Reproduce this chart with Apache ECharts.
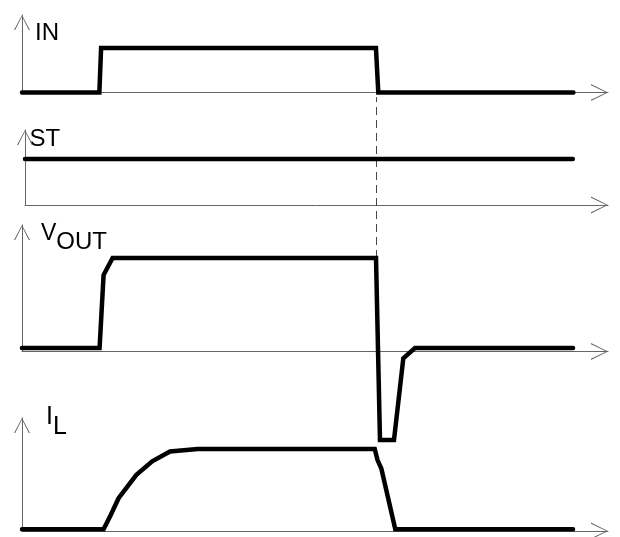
<!DOCTYPE html>
<html><head><meta charset="utf-8">
<script src="https://cdn.jsdelivr.net/npm/echarts@6/dist/echarts.min.js"></script>
<style>html,body{margin:0;padding:0;background:#fff}#c{width:620px;height:537px}</style>
</head><body><div id="c"></div>
<script>
// ---- data (time in arbitrary units 0..100, levels normalised: 1 = nominal high) ----
const inTime  = [0, 13.2, 13.5, 60.4, 60.8, 94.1];
const inLevel = [0, 0, 1, 1, 0, 0];
const stTime  = [0.5, 94.0];
const stLevel = [1, 1];
const voutTime  = [0, 13.24, 13.92, 15.46, 60.41, 61.09, 63.48, 65.07, 67.06, 94.03];
const voutLevel = [0.037, 0.037, 0.818, 1, 1, -0.947, -0.947, -0.073, 0.037, 0.037];
const ilTime  = [0, 13.92, 15.1, 16.48, 19.52, 22.22, 25.26, 29.97, 60.19, 60.67, 61.33, 63.7, 94.03];
const ilLevel = [0.02, 0.02, 0.19, 0.40, 0.685, 0.85, 0.97, 1, 1, 0.865, 0.76, 0.02, 0.02];
// dashed guide at IN falling edge (in VOUT units: from VOUT high up to IN baseline)
const guideTime  = [60.5, 60.5];
const guideLevel = [1, 2.72];
const signalNames = ['IN', 'ST', '{v|V}{s|OUT}', '{i|I}{l|L}'];

// ---- layout ----
const FONT = 'Liberation Sans, Arial, sans-serif';
const panels = [
  {left: 22, top: 15,  base: 92.5,  yMax: 1.742, xMin: 0,   gap: -6,  pad: 13},
  {left: 25, top: 130, base: 205,   yMax: 1.63,  xMin: 0.5, gap: 3,   pad: 4.5},
  {left: 22, top: 225, base: 351.5, yMax: 1.353, xMin: 0,   gap: 3,   pad: 19},
  {left: 22, top: 418, base: 531,   yMax: 1.378, xMin: 0,   gap: 13,  pad: 24}
];
const series = [[inTime, inLevel], [stTime, stLevel], [voutTime, voutLevel], [ilTime, ilLevel]];
const AX = '#666';
const yArrow = 'path://M0,15 L8,0 L16,15 L14.8,15 L8,1.6 L1.2,15 Z';
const xArrow = 'path://M0,17 L8.5,0 L17,17 L15.8,17 L8.5,1.8 L1.2,17 Z';

const option = {
  animation: false,
  backgroundColor: '#fff',
  grid: panels.map(p => ({left: p.left, right: 12, top: p.top, height: p.base - p.top})),
  xAxis: panels.map((p, i) => ({
    type: 'value', gridIndex: i, min: p.xMin, max: 100,
    axisLine: {show: true, onZero: false, lineStyle: {color: AX, width: 1},
      symbol: ['none', xArrow], symbolSize: [17, 17], symbolOffset: [0, -8.5]},
    axisTick: {show: false}, axisLabel: {show: false}, splitLine: {show: false}
  })),
  yAxis: panels.map((p, i) => ({
    type: 'value', gridIndex: i, min: 0, max: p.yMax,
    name: signalNames[i], nameLocation: 'end', nameGap: p.gap,
    nameTextStyle: {
      color: '#000', fontFamily: FONT, fontSize: 24, lineHeight: 24, align: 'left', verticalAlign: 'top',
      padding: [0, 0, 0, p.pad],
      rich: {
        v: {fontFamily: FONT, fontSize: 23, lineHeight: 24, color: '#000', verticalAlign: 'top'},
        s: {fontFamily: FONT, fontSize: 24, lineHeight: 40, color: '#000', verticalAlign: 'middle'},
        i: {fontFamily: FONT, fontSize: 25, lineHeight: 25, color: '#000', verticalAlign: 'top'},
        l: {fontFamily: FONT, fontSize: 25, lineHeight: 45, color: '#000', verticalAlign: 'middle'}
      }
    },
    axisLine: {show: true, onZero: false, lineStyle: {color: AX, width: 1},
      symbol: ['none', yArrow], symbolSize: [16, 15], symbolOffset: [0, -7.5]},
    axisTick: {show: false}, axisLabel: {show: false}, splitLine: {show: false}
  })),
  series: series.map((s, i) => ({
    type: 'line', xAxisIndex: i, yAxisIndex: i, clip: false, showSymbol: false, symbol: 'none',
    data: s[0].map((t, k) => [t, s[1][k]]),
    lineStyle: {color: '#000', width: 4.5, join: 'miter', cap: 'round'}, z: 3
  })).concat([{
    type: 'line', xAxisIndex: 2, yAxisIndex: 2, clip: false, showSymbol: false, symbol: 'none',
    data: guideTime.map((t, k) => [t, guideLevel[k]]),
    lineStyle: {color: '#444', width: 1, type: [8, 5]}, z: 1
  }])
};
const chart = echarts.init(document.getElementById('c'), null, {renderer: 'canvas'});
chart.setOption(option);
</script></body></html>
